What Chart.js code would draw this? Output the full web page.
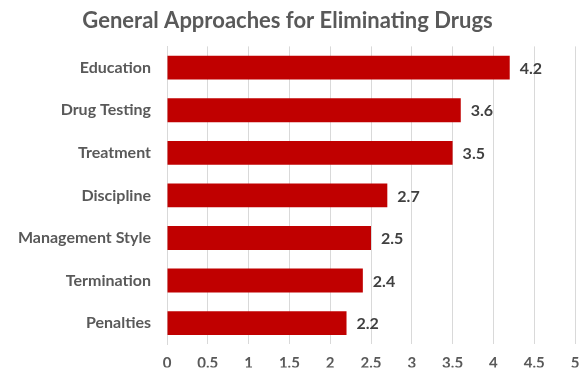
<!DOCTYPE html>
<html>
<head>
<meta charset="utf-8">
<script src="https://cdn.jsdelivr.net/npm/chart.js@4"></script>
<style>
  html, body { margin: 0; padding: 0; background: #fff; }
  #wrap { width: 587px; height: 370px; }
</style>
</head>
<body>
<div id="wrap"><canvas id="myChart" width="587" height="370"></canvas></div>
<script>
const categorias = ['Education', 'Drug Testing', 'Treatment', 'Discipline', 'Management Style', 'Termination', 'Penalties'];
const valores = [4.2, 3.6, 3.5, 2.7, 2.5, 2.4, 2.2];
const ticksX = [0, 0.5, 1, 1.5, 2, 2.5, 3, 3.5, 4, 4.5, 5];

const fuente = 'Lato, "Open Sans", sans-serif';

// etiquetas al final de cada barra
const etiquetas = {
    id: 'etiquetas',
    afterDatasetsDraw(chart) {
        const ctx = chart.ctx;
        const meta = chart.getDatasetMeta(0);
        ctx.save();
        ctx.font = 'bold 16px ' + fuente;
        ctx.fillStyle = '#404040';
        ctx.textAlign = 'left';
        ctx.textBaseline = 'middle';
        meta.data.forEach(function(bar, i){
            ctx.fillText(valores[i].toFixed(1), bar.x + 10, bar.y + 1);
        });
        ctx.restore();
    }
};

function initChart(){
    const ctx = document.getElementById('myChart').getContext('2d');
    new Chart(ctx, {
        type: 'bar',
        data: {
            labels: categorias,
            datasets: [{
                data: valores,
                backgroundColor: '#C00000',
                barPercentage: 0.56,
                categoryPercentage: 1
            }]
        },
        options: {
            indexAxis: 'y',
            responsive: false,
            animation: false,
            layout: { padding: { left: 0, right: 12, top: 8, bottom: 0 } },
            plugins: {
                legend: { display: false },
                tooltip: { enabled: false },
                title: {
                    display: true,
                    text: 'General Approaches for Eliminating Drugs',
                    color: '#595959',
                    font: { family: fuente, size: 22, weight: 'bold' },
                    padding: { top: 0, bottom: 12 }
                }
            },
            scales: {
                x: {
                    min: 0,
                    max: 5,
                    afterBuildTicks: function(scale){
                        scale.ticks = ticksX.map(function(v){ return { value: v }; });
                    },
                    afterFit: function(scale){
                        scale.height = 23;
                        scale.paddingLeft = 0;
                        scale.paddingRight = 0;
                    },
                    grid: { color: '#d9d9d9', drawTicks: false },
                    border: { display: false },
                    ticks: {
                        color: '#595959',
                        padding: 10,
                        font: { family: fuente, size: 15, weight: 'bold' },
                        callback: function(v){ return String(v); }
                    }
                },
                y: {
                    afterFit: function(scale){ scale.width = 167; },
                    grid: { display: false, drawTicks: false },
                    border: { display: true, color: '#d9d9d9' },
                    ticks: {
                        color: '#595959',
                        padding: 16,
                        font: { family: fuente, size: 16, weight: 'bold' }
                    }
                }
            }
        },
        plugins: [etiquetas]
    });
}

window.onload = initChart;
</script>
</body>
</html>
